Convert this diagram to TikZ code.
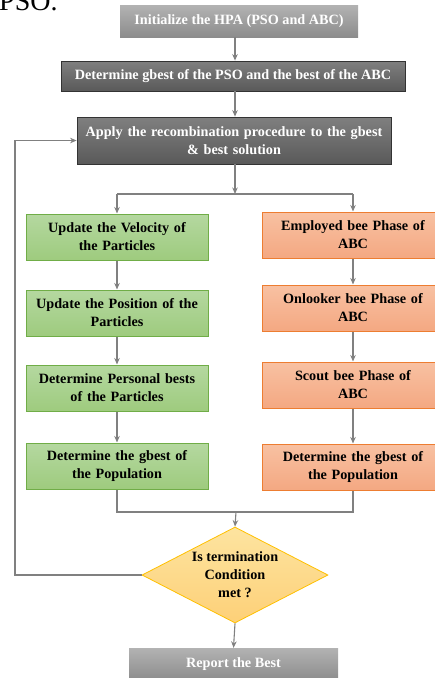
\documentclass[tikz,border=0pt]{standalone}
\usepackage{fontspec}
\setmainfont{Liberation Serif}
\usetikzlibrary{shapes.geometric,arrows.meta}
\definecolor{linegray}{HTML}{808080}
\definecolor{greenborder}{HTML}{70AD47}
\definecolor{orangeborder}{HTML}{ED7D31}
\definecolor{yellowborder}{HTML}{FFC000}
\begin{document}
\begin{tikzpicture}[x=1pt,y=-1pt,
  txt/.style={font=\fontsize{14.2}{18}\selectfont\bfseries, align=center, inner sep=2pt},
  lightbox/.style={txt, rectangle, text=white, top color=black!30, bottom color=black!45, draw=none, minimum width=238pt, minimum height=32pt},
  darkbox/.style={txt, rectangle, text=white, top color=black!50, bottom color=black!65, draw=black!80, line width=0.8pt},
  greenbox/.style={txt, rectangle, draw=greenborder, line width=1pt, minimum width=182pt, minimum height=46pt, text width=176pt},
  orangebox/.style={txt, rectangle, draw=orangeborder, line width=1pt, minimum width=182pt, minimum height=46pt, text width=176pt},
  decision/.style={txt, diamond, draw=yellowborder, line width=0.8pt, top color={rgb,255:red,253;green,228;blue,160}, bottom color={rgb,255:red,253;green,208;blue,120}, minimum width=186pt, minimum height=96pt, aspect=1.94, inner sep=0pt},
  gfill/.style={top color={rgb,255:red,181;green,216;blue,160}, bottom color={rgb,255:red,158;green,203;blue,126}},
  ofill/.style={top color={rgb,255:red,248;green,193;blue,162}, bottom color={rgb,255:red,244;green,168;blue,130}},
  conn/.style={draw=linegray, line width=1.1pt},
  arr/.style={conn, -{Stealth[length=6.5pt,width=5.5pt]}}
]
\useasboundingbox (0,0) rectangle (435,678);
\node[anchor=base west, inner sep=0pt, font=\fontsize{28}{30}\selectfont] (pso) at (-1,10) {PSO.};

\node[lightbox] (b1) at (239,21) {Initialize the HPA (PSO and ABC)};
\node[darkbox, minimum width=344pt, minimum height=30pt] (b2) at (233,76) {Determine gbest of the PSO and the best of the ABC};
\node[darkbox, minimum width=314pt, minimum height=47pt, text width=306pt] (b3) at (234,140.5) {Apply the recombination procedure to the gbest\\ \& best solution};

\node[greenbox, gfill] (g1) at (117,237) {Update the Velocity of\\the Particles};
\node[greenbox, gfill] (g2) at (117,313) {Update the Position of the\\Particles};
\node[greenbox, gfill] (g3) at (117,388) {Determine Personal bests\\of the Particles};
\node[greenbox, gfill] (g4) at (117,466) {Determine the gbest of\\the Population};

\node[orangebox, ofill] (o1) at (353,235) {Employed bee Phase of\\ABC};
\node[orangebox, ofill] (o2) at (353,308) {Onlooker bee Phase of\\ABC};
\node[orangebox, ofill] (o3) at (353,385) {Scout bee Phase of\\ABC};
\node[orangebox, ofill] (o4) at (353,467) {Determine the gbest of\\the Population};

\node[decision] (d) at (235,575) {Is termination\\Condition\\met ?};
\node[lightbox, minimum width=209pt, minimum height=32pt] (r) at (233.5,664) {Report the Best};

\coordinate (ax) at (235,0);
\coordinate (split) at (235,194);
\coordinate (merge) at (236,512);
\coordinate (loopx) at (15,0);

\draw[arr] (b1.south -| ax) -- (b2.north -| ax);
\draw[arr] (b2.south -| ax) -- (b3.north -| ax);
\draw[arr] (b3.south -| ax) -- (split);
\draw[conn] (split -| g1) -- (split -| o1);
\draw[arr] (split -| g1) -- (g1.north);
\draw[arr] (split -| o1) -- (o1.north);
\draw[arr] (g1) -- (g2);
\draw[arr] (g2) -- (g3);
\draw[arr] (g3) -- (g4);
\draw[arr] (o1) -- (o2);
\draw[arr] (o2) -- (o3);
\draw[arr] (o3) -- (o4);
\draw[conn] (g4.south) |- (merge) -| (o4.south);
\draw[arr] (merge) -- (d.north);
\draw[arr] (d.west) -| (loopx |- b3.west) -- (b3.west);
\draw[arr] (d.south) -- (r.north);
\end{tikzpicture}
\end{document}
